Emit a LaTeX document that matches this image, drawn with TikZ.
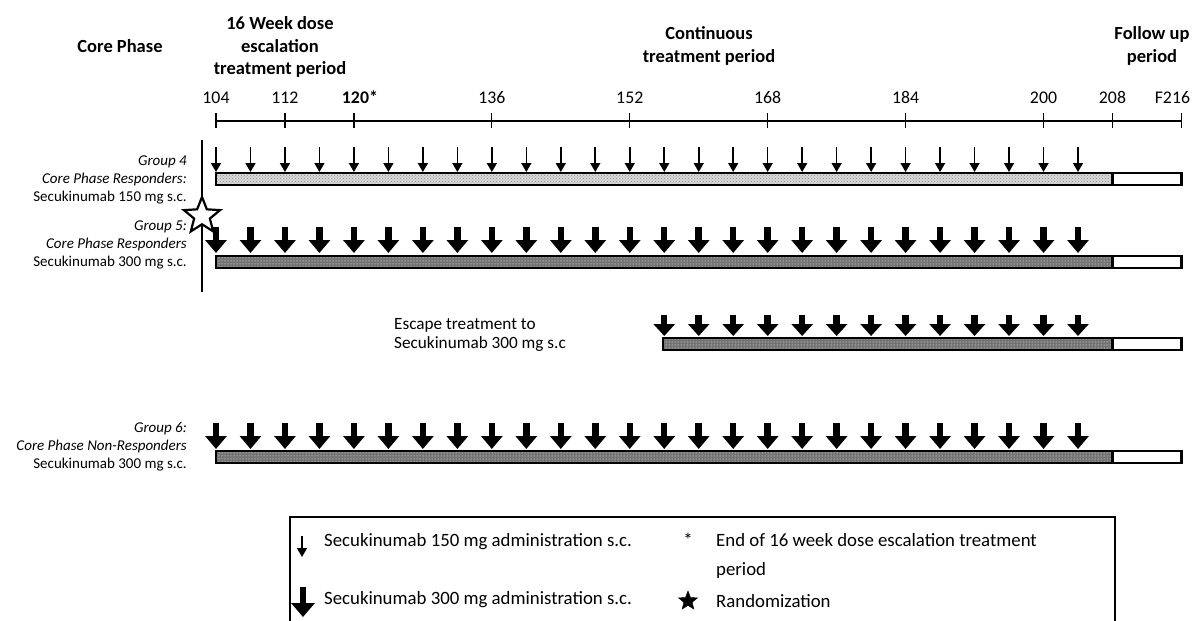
\documentclass[tikz,border=0pt]{standalone}
\usepackage{fontspec}
\setmainfont{Carlito}
\usetikzlibrary{arrows.meta, shapes.geometric, patterns, positioning}

% week number -> x position
\newcommand{\wx}[1]{216+(#1-104)*8.62}

\begin{document}
\begin{tikzpicture}[
    x=1pt, y=-1pt,
    header/.style={font=\fontsize{18.5}{22.5}\selectfont\bfseries, align=center, inner sep=0pt},
    weeklabel/.style={font=\fontsize{17.8}{20}\selectfont, anchor=base, inner sep=0pt},
    grouplabel/.style={font=\fontsize{15}{18}\selectfont, align=right, anchor=east, inner sep=0pt},
    legendtext/.style={font=\fontsize{18.8}{29}\selectfont, align=left, anchor=west, inner sep=0pt},
    axisline/.style={line width=1.6pt},
    lowdose/.style={line width=1.6pt, -{Triangle[length=9pt,width=10pt]}},
    highdose/.style={line width=6.5pt, -{Triangle[length=13pt,width=21pt]}},
    lightbar/.style={draw, line width=2.2pt, preaction={fill=black!15}, pattern=crosshatch dots, pattern color=black!45},
    darkbar/.style={draw, line width=2.2pt, preaction={fill=black!55}, pattern=dots, pattern color=white},
    followbar/.style={draw, line width=2.2pt, fill=white},
    randstar/.style={star, star points=5, star point ratio=2.3, draw, inner sep=0pt}
]
    \useasboundingbox (0,0) rectangle (1195,621);

    % Headers
    \node[header] (core) at (120,46) {Core Phase};
    \node[header] (escal) at (280,47) {16 Week dose\\escalation\\treatment period};
    \node[header] (cont) at (709,46) {Continuous\\treatment period};
    \node[header] (follow) at (1152,46) {Follow up\\period};

    % Time axis
    \coordinate (axisL) at ({\wx{104}},121);
    \coordinate (axisR) at ({\wx{216}},121);
    \draw[axisline] (axisL) -- (axisR);
    \foreach \w/\lab/\dx in {104/104/0, 112/112/0, 120/\textbf{120*}/6, 136/136/0, 152/152/0,
                             168/168/0, 184/184/0, 200/200/0, 208/208/0, 216/F216/-9} {
        \draw[axisline, line width=1.2pt] ({\wx{\w}},113) -- ({\wx{\w}},128);
        \node[weeklabel] (wk\w) at ({\wx{\w}+\dx},103) {\lab};
    }

    % Randomization line
    \coordinate (randT) at (202,140);
    \coordinate (randB) at (202,292);
    \draw[line width=1.5pt] (randT) -- (randB);

    % Group 4
    \node[grouplabel] (grp4) at (187,180) {\textit{Group 4}\\\textit{Core Phase Responders:}\\Secukinumab 150 mg s.c.};
    \foreach \w in {104,108,...,204}
        \draw[lowdose] ({\wx{\w}},147) -- ({\wx{\w}},172);
    \draw[lightbar] ({\wx{104}},173) rectangle ({\wx{208}},185);
    \draw[followbar] ({\wx{208}},173) rectangle ({\wx{216}},185);

    % Group 5
    \node[grouplabel] (grp5) at (187,245) {\textit{Group 5:}\\\textit{Core Phase Responders}\\Secukinumab 300 mg s.c.};
    \foreach \w in {104,108,...,204}
        \draw[highdose] ({\wx{\w}},227) -- ({\wx{\w}},253);
    \draw[darkbar] ({\wx{104}},256) rectangle ({\wx{208}},268);
    \draw[followbar] ({\wx{208}},256) rectangle ({\wx{216}},268);

    % Escape treatment
    \node[legendtext, font=\fontsize{17.2}{19}\selectfont] (escape) at (394,335) {Escape treatment to\\Secukinumab 300 mg s.c};
    \foreach \w in {156,160,...,204}
        \draw[highdose, -{Triangle[length=12pt,width=21pt]}] ({\wx{\w}},315) -- ({\wx{\w}},336);
    \draw[darkbar] (663,338) rectangle ({\wx{208}},350);
    \draw[followbar] ({\wx{208}},338) rectangle ({\wx{216}},350);

    % Group 6
    \node[grouplabel] (grp6) at (187,447) {\textit{Group 6:}\\\textit{Core Phase Non-Responders}\\Secukinumab 300 mg s.c.};
    \foreach \w in {104,108,...,204}
        \draw[highdose] ({\wx{\w}},423) -- ({\wx{\w}},449);
    \draw[darkbar] ({\wx{104}},451) rectangle ({\wx{208}},463);
    \draw[followbar] ({\wx{208}},451) rectangle ({\wx{216}},463);

    % Randomization star
    \node[randstar, fill=white, line width=2.2pt, minimum size=38pt] (rand) at (202,216) {};

    % Legend
    \draw[line width=1.5pt] (290,623) -- (290,517) -- (1115,517) -- (1115,623);
    \coordinate (lowT) at (302,536);
    \coordinate (lowB) at (302,557);
    \draw[lowdose] (lowT) -- (lowB);
    \node[legendtext] (lowtxt) at (324,542) {Secukinumab 150 mg administration s.c.};
    \coordinate (highT) at (303,587);
    \coordinate (highB) at (303,617);
    \draw[highdose, -{Triangle[length=14pt,width=23pt]}] (highT) -- (highB);
    \node[legendtext] (hightxt) at (324,600) {Secukinumab 300 mg administration s.c.};
    \node[legendtext, anchor=base] (asterisk) at (688,546) {*};
    \node[legendtext, anchor=north west] (endtxt) at (716,533) {End of 16 week dose escalation treatment\\period};
    \node[randstar, fill=black, minimum size=20pt] (randkey) at (688,601) {};
    \node[legendtext] (randtxt) at (716,601) {Randomization};
\end{tikzpicture}
\end{document}
